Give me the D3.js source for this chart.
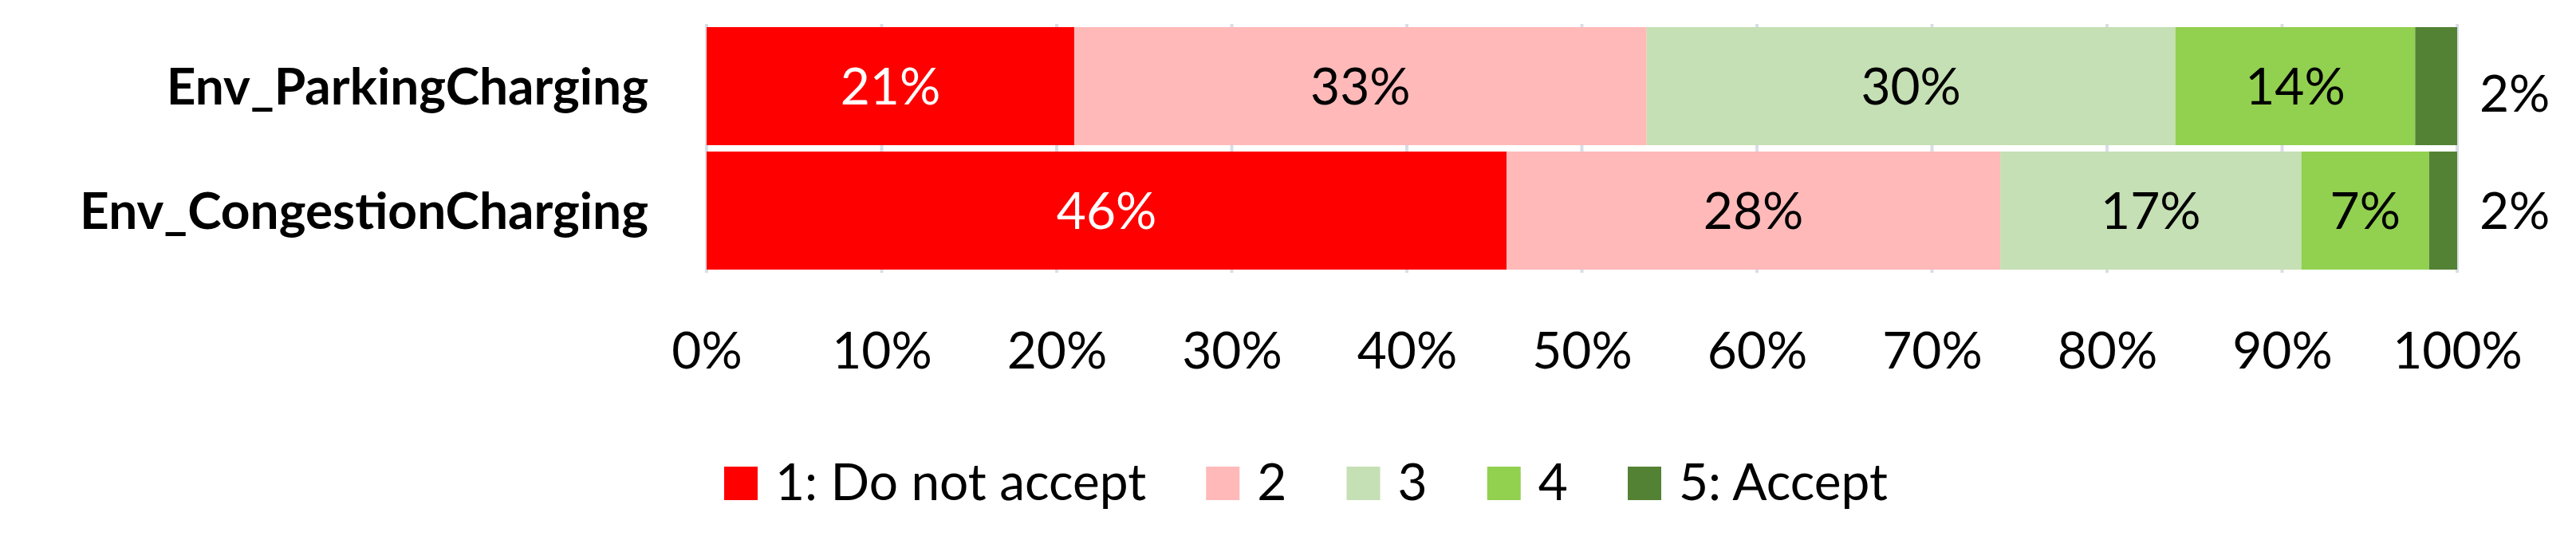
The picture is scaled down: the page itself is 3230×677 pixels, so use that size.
<!DOCTYPE html>
<html>
<head>
<meta charset="utf-8">
<script src="https://cdn.jsdelivr.net/npm/d3@7"></script>
<style>
  html, body { margin: 0; padding: 0; background: #fff; }
  svg { display: block; }
  text { font-family: Lato, "Open Sans", sans-serif; }
</style>
</head>
<body>
<div id="app"></div>
<script>
// categories (top to bottom)
var categories = ["Env_ParkingCharging", "Env_CongestionCharging"];
// series, in stack order
var seriesNames = ["1: Do not accept", "2", "3", "4", "5: Accept"];
var doNotAccept = [21.0, 45.7];
var level2 = [32.7, 28.2];
var level3 = [30.2, 17.2];
var level4 = [13.7, 7.3];
var accept = [2.4, 1.6];
var tickValues = [0, 10, 20, 30, 40, 50, 60, 70, 80, 90, 100];

var colors = ["#FF0000", "#FFB9B9", "#C5E0B4", "#92D050", "#548235"];

var width = 3230, height = 677;
var x0 = 886, x1 = 3081, yTop = 30, yBottom = 342;

var rows = categories.map(function (c, i) {
  return { cat: c, s0: doNotAccept[i], s1: level2[i], s2: level3[i], s3: level4[i], s4: accept[i] };
});
var keys = ["s0", "s1", "s2", "s3", "s4"];
var stacked = d3.stack().keys(keys)(rows);

var x = d3.scaleLinear().domain([0, 100]).range([x0, x1]);
var y = d3.scaleBand().domain(categories).range([yTop, yBottom])
  .paddingInner(8 / 156).paddingOuter(4 / 156);

var svg = d3.select("#app").append("svg")
  .attr("width", width).attr("height", height);

// gridlines
svg.append("g").attr("class", "grid")
  .selectAll("line").data(tickValues).enter().append("line")
  .attr("x1", function (d) { return x(d); })
  .attr("x2", function (d) { return x(d); })
  .attr("y1", yTop).attr("y2", yBottom)
  .attr("stroke", "#D9DEE6").attr("stroke-width", 4);

// bars
var layers = svg.append("g").selectAll("g.layer").data(stacked).enter()
  .append("g").attr("class", "layer")
  .attr("fill", function (d, i) { return colors[i]; });

layers.selectAll("rect").data(function (d) { return d; }).enter().append("rect")
  .attr("x", function (d) { return x(d[0]); })
  .attr("width", function (d) { return x(d[1]) - x(d[0]); })
  .attr("y", function (d) { return y(d.data.cat); })
  .attr("height", y.bandwidth());

// value labels
layers.each(function (layer, li) {
  d3.select(this).selectAll("text").data(layer).enter().append("text")
    .attr("x", function (d) {
      return li === 4 ? x(d[1]) + 28 : (x(d[0]) + x(d[1])) / 2;
    })
    .attr("y", function (d, i) {
      // outside label of the top bar sits a little lower in the original
      var shift = (li === 4 && i === 0) ? 9 : 0;
      return y(d.data.cat) + y.bandwidth() / 2 + shift;
    })
    .attr("dy", "0.36em")
    .attr("text-anchor", li === 4 ? "start" : "middle")
    .attr("fill", li === 0 ? "#FFFFFF" : "#000000")
    .style("font-size", "64px")
    .text(function (d) { return Math.round(d[1] - d[0]) + "%"; });
});

// category labels
svg.append("g").selectAll("text").data(categories).enter().append("text")
  .attr("x", 813)
  .attr("y", function (d) { return y(d) + y.bandwidth() / 2; })
  .attr("dy", "0.36em")
  .attr("text-anchor", "end")
  .style("font-size", "64px")
  .style("font-weight", "bold")
  .text(function (d) { return d; });

// x axis
var xAxis = d3.axisBottom(x).tickValues(tickValues).tickSize(0).tickPadding(0)
  .tickFormat(function (d) { return d + "%"; });
var ax = svg.append("g").attr("transform", "translate(0,462)").call(xAxis);
ax.select(".domain").remove();
ax.selectAll("text")
  .attr("y", 0).attr("dy", 0)
  .style("font-family", "Lato, 'Open Sans', sans-serif")
  .style("font-size", "64px")
  .attr("fill", "#000");

// legend
var legend = svg.append("g").attr("class", "legend");
var items = legend.selectAll("g").data(seriesNames).enter().append("g");
items.append("rect").attr("width", 42).attr("height", 42).attr("y", 585)
  .attr("fill", function (d, i) { return colors[i]; });
items.append("text").attr("y", 627)
  .style("font-size", "64px")
  .text(function (d) { return d; });

var legendLeft = 908, legendRight = 2367;
var widths = [];
items.each(function () {
  widths.push(42 + 22 + d3.select(this).select("text").node().getComputedTextLength());
});
var gap = (legendRight - legendLeft - d3.sum(widths)) / (widths.length - 1);
var pos = legendLeft;
items.each(function (d, i) {
  var g = d3.select(this);
  g.select("rect").attr("x", pos);
  g.select("text").attr("x", pos + 64);
  pos += widths[i] + gap;
});
</script>
</body>
</html>
